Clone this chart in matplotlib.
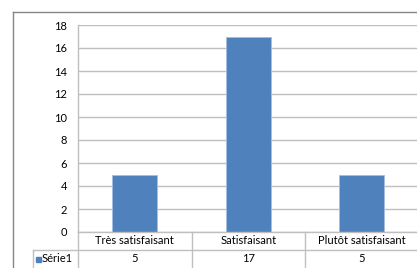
import matplotlib.pyplot as plt
from matplotlib.lines import Line2D
from matplotlib.patches import Rectangle
from matplotlib.transforms import blended_transform_factory

categories = ["Très satisfaisant", "Satisfaisant", "Plutôt satisfaisant"]
values = [5, 17, 5]
series_name = "Série1"
yticks = [0, 2, 4, 6, 8, 10, 12, 14, 16, 18]

W, H = 417, 268
plt.rcParams['font.family'] = ['Lato', 'DejaVu Sans']
blue = '#4F81BD'
grid_c = '#BFBFBF'
fs = 8


def fx(px):
    return px / W


def fy(py):
    return 1 - py / H


fig = plt.figure(figsize=(W / 100, H / 100), dpi=100)
x0, x1 = 78, 418.5
y_top, y_zero = 25, 232
ax = fig.add_axes([fx(x0), fy(y_zero), fx(x1) - fx(x0), fy(y_top) - fy(y_zero)])

x = list(range(len(categories)))
ax.bar(x, values, width=0.4, color=blue, edgecolor='#A3BEE0', linewidth=0.7, zorder=3)
ax.set_xlim(-0.5, len(categories) - 0.5)
ax.set_ylim(0, 18)
ax.set_yticks(yticks)
ax.set_yticklabels([str(t) for t in yticks], fontsize=fs, color='#000000')
ax.tick_params(axis='y', length=0, pad=8)
ax.tick_params(axis='x', length=0, labelbottom=False)
ax.yaxis.grid(True, color=grid_c, linewidth=1, zorder=0)
for s in ['top', 'right', 'bottom']:
    ax.spines[s].set_visible(False)
ax.spines['left'].set_color(grid_c)
ax.spines['left'].set_linewidth(1)

# data table below the plot
row1_y, row2_y = 232, 250
for py, xa in [(row1_y, x0), (row2_y, 33)]:
    fig.add_artist(Line2D([fx(xa), 1.0], [fy(py), fy(py)], color=grid_c, lw=1))
col_edges = [x0 + i * (x1 - x0) / len(categories) for i in range(len(categories))]
for cx in col_edges:
    fig.add_artist(Line2D([fx(cx), fx(cx)], [fy(row1_y), 0], color=grid_c, lw=1))
fig.add_artist(Line2D([fx(33), fx(33)], [fy(row2_y), 0], color=grid_c, lw=1))

tr = blended_transform_factory(ax.transData, fig.transFigure)
for xi, cat, v in zip(x, categories, values):
    ax.text(xi, fy(241), cat, transform=tr, ha='center', va='center', fontsize=fs, clip_on=False)
    ax.text(xi, fy(259), str(v), transform=tr, ha='center', va='center', fontsize=fs, clip_on=False)

fig.add_artist(Rectangle((fx(36), fy(262)), fx(5), 5.5 / H, color=blue))
fig.text(fx(42), fy(259), series_name, ha='left', va='center', fontsize=fs)

# chart area border
fig.add_artist(Line2D([fx(12.5), fx(12.5)], [fy(11.5), 0], color='#868686', lw=1))
fig.add_artist(Line2D([fx(12.5), 1.0], [fy(11.5), fy(11.5)], color='#868686', lw=1))

fig.savefig('out.png', dpi=100)
